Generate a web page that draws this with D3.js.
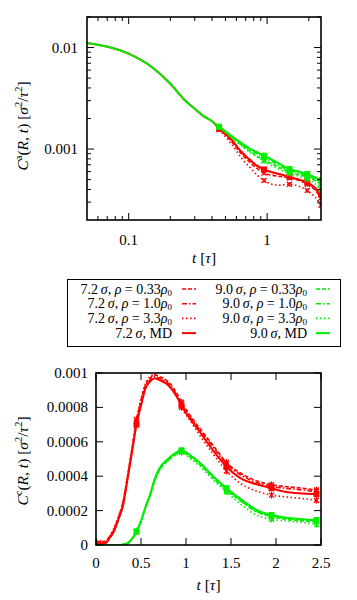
<!DOCTYPE html>
<html><head><meta charset="utf-8">
<script src="https://cdn.jsdelivr.net/npm/d3@7"></script>
<style>
body{margin:0;background:#fff;}
svg text{font-family:"Liberation Serif","DejaVu Serif",serif;fill:#000;}
</style></head>
<body>
<svg id="c" width="357" height="600"></svg>
<script>
// ---------- DATA: top panel (log-log) ----------
const tA_md = [0.05,0.1,0.15,0.2,0.25,0.3,0.35,0.4,0.45,0.55,0.65,0.75,0.85,0.95,1.2,1.45,1.7,1.95,2.2,2.45];
const a_md72 = [0.0111,0.0087,0.0063,0.0044,0.0031,0.0025,0.0021,0.00188,0.00160,0.00125,0.00094,0.00078,0.00068,0.00063,0.00057,0.00053,0.00050,0.00047,0.00042,0.00036];
const a_md90 = [0.0111,0.0087,0.0063,0.0044,0.0031,0.0025,0.0021,0.00188,0.00166,0.00135,0.00115,0.00101,0.00093,0.00086,0.00073,0.000635,0.00060,0.000567,0.00053,0.00049];
const tA_rho = [0.45,0.55,0.65,0.75,0.85,0.95,1.2,1.45,1.7,1.95,2.2,2.45];
const a_72_033 = [0.00158,0.00120,0.00090,0.00074,0.00064,0.00058,0.00054,0.00052,0.00049,0.00045,0.00040,0.00033];
const a_72_10  = [0.00160,0.00124,0.00095,0.00079,0.00069,0.00063,0.00057,0.00054,0.00050,0.00046,0.00041,0.00035];
const a_72_33  = [0.00155,0.00113,0.00082,0.00066,0.00055,0.00049,0.00044,0.00045,0.00043,0.00039,0.00034,0.00028];
const a_90_033 = [0.00165,0.00132,0.00110,0.00095,0.00085,0.00078,0.00067,0.00059,0.00056,0.00053,0.00049,0.00045];
const a_90_10  = [0.00166,0.00134,0.00113,0.00099,0.00090,0.00083,0.00070,0.00062,0.00058,0.00055,0.00051,0.00047];
const a_90_33  = [0.00163,0.00130,0.00108,0.00093,0.00083,0.00076,0.00064,0.00057,0.00054,0.00050,0.00046,0.00040];

// ---------- DATA: bottom panel (linear) ----------
const tC = [0,0.1,0.15,0.2,0.25,0.3,0.35,0.4,0.45,0.5,0.55,0.6,0.65,0.7,0.8,0.9,0.95,1.05,1.15,1.3,1.45,1.6,1.8,1.95,2.1,2.3,2.45];
const c_md72   = [0.00001,0.00001,0.00004,0.00008,0.00015,0.00023,0.00038,0.00054,0.0007,0.00081,0.00091,0.00095,0.00097,0.00096,0.00093,0.00086,0.00081,0.00073,0.00066,0.00055,0.000455,0.00039,0.00035,0.00033,0.00031,0.0003,0.000296];
const c_72_033 = [0.00002,0.00002,0.00005,0.00009,0.00016,0.00025,0.0004,0.00056,0.00072,0.00084,0.00093,0.00097,0.00099,0.00098,0.00095,0.00088,0.00083,0.00075,0.00068,0.00058,0.00048,0.00042,0.00037,0.00035,0.00034,0.00033,0.00032];
const c_72_10  = [0.00002,0.00001,0.00004,0.00009,0.00016,0.00024,0.00039,0.00055,0.00071,0.00083,0.00092,0.00096,0.00098,0.00097,0.00094,0.00087,0.00082,0.00074,0.00067,0.00057,0.00047,0.00041,0.00036,0.00034,0.00033,0.00032,0.00031];
const c_72_33  = [0.00003,0.00002,0.00005,0.0001,0.00017,0.00025,0.0004,0.00056,0.00073,0.00085,0.00094,0.00098,0.00099,0.00097,0.00093,0.00086,0.0008,0.00072,0.00064,0.00053,0.00043,0.00036,0.00031,0.00029,0.00028,0.00027,0.00026];
const c_md90   = [0,0,0,0,0,0.000003,0.00001,0.000035,0.000077,0.00014,0.00022,0.00029,0.00038,0.00044,0.0005,0.00054,0.00055,0.00052,0.00048,0.0004,0.00033,0.00027,0.0002,0.000174,0.00016,0.00015,0.000145];
const c_90_033 = [0,0,0,0,0,0.000003,0.000011,0.000036,0.00008,0.00014,0.00022,0.00029,0.00037,0.00043,0.00049,0.00053,0.00054,0.00051,0.00047,0.00039,0.00032,0.00026,0.00019,0.000165,0.00015,0.00014,0.000135];
const c_90_10  = [0,0,0,0,0,0.000003,0.00001,0.000035,0.000078,0.00014,0.00022,0.00029,0.00038,0.00044,0.0005,0.00054,0.00055,0.00052,0.00048,0.0004,0.00033,0.00026,0.00019,0.00017,0.000155,0.000145,0.00014];
const c_90_33  = [0,0,0,0,0,0.000004,0.000012,0.000038,0.00008,0.00014,0.00022,0.00029,0.00037,0.00043,0.00049,0.00053,0.00054,0.0005,0.00046,0.00038,0.00031,0.00024,0.00017,0.00015,0.00014,0.00013,0.00012];

const markerTimes = [0.45,0.95,1.45,1.95,2.45];
const topXTicks = [0.1,1];
const topYTicks = [0.001,0.01];
const botXTicks = [0,0.5,1,1.5,2,2.5];
const botYTicks = [0,0.0002,0.0004,0.0006,0.0008,0.001];
const legendLabels = [
  ["7.2","0.33"],["7.2","1.0"],["7.2","3.3"],["7.2","MD"],
  ["9.0","0.33"],["9.0","1.0"],["9.0","3.3"],["9.0","MD"]];

// ---------- STYLE ----------
const RED = "#ff0000", GREEN = "#00ee00";
const styles = {
  "0.33": {dash:"4,2", w:1.6, mk:"x"},
  "1.0":  {dash:"5,2,1.5,2", w:1.6, mk:"x"},
  "3.3":  {dash:"1.5,2.5", w:1.6, mk:"x"},
  "MD":   {dash:null, w:2, mk:"sq"}
};
const svg = d3.select("#c");
const FS = 15;

function drawSeries(g, x, y, ts, vs, color, key, clipId, errFrac, errAbs) {
  const st = styles[key];
  const pts = ts.map((t,i)=>[t,vs[i]]);
  const line = d3.line().x(d=>x(d[0])).y(d=>y(d[1])).curve(d3.curveMonotoneX);
  const gg = g.append("g").attr("clip-path", `url(#${clipId})`);
  gg.append("path").attr("d", line(pts)).attr("fill","none")
    .attr("stroke", color).attr("stroke-width", st.w)
    .attr("stroke-dasharray", st.dash);
  pts.filter(p=>markerTimes.some(m=>Math.abs(m-p[0])<1e-6)).forEach(p=>{
    const cx = x(p[0]), cy = y(p[1]);
    const e = errAbs != null ? errAbs : p[1]*errFrac;
    gg.append("line").attr("x1",cx).attr("x2",cx)
      .attr("y1",y(p[1]+e)).attr("y2",y(Math.max(p[1]-e,1e-9)))
      .attr("stroke",color).attr("stroke-width",1.2);
    if (st.mk === "sq") {
      gg.append("rect").attr("x",cx-3).attr("y",cy-3).attr("width",6).attr("height",6).attr("fill",color);
    } else {
      const s=2.5;
      gg.append("path").attr("d",`M${cx-s},${cy-s}L${cx+s},${cy+s}M${cx-s},${cy+s}L${cx+s},${cy-s}`)
        .attr("stroke",color).attr("stroke-width",1.3);
    }
  });
}

function ylabel(g, cx, cy, sup) {
  const t = g.append("text").attr("transform",`translate(${cx},${cy}) rotate(-90)`)
    .attr("text-anchor","middle").attr("font-size",FS+0.5);
  t.append("tspan").attr("font-style","italic").text("C");
  t.append("tspan").attr("font-size",10.5).attr("dy",-6).text(sup);
  t.append("tspan").attr("dy",6).text("(");
  t.append("tspan").attr("font-style","italic").text("R");
  t.append("tspan").text(", ");
  t.append("tspan").attr("font-style","italic").text("t");
  t.append("tspan").text(") [");
  t.append("tspan").attr("font-style","italic").text("σ");
  t.append("tspan").attr("font-size",10.5).attr("dy",-6).text("2");
  t.append("tspan").attr("dy",6).text("/");
  t.append("tspan").attr("font-style","italic").text("τ");
  t.append("tspan").attr("font-size",10.5).attr("dy",-6).text("2");
  t.append("tspan").attr("dy",6).text("]");
}
function xlabel(g, cx, cy) {
  const t = g.append("text").attr("x",cx).attr("y",cy).attr("text-anchor","middle").attr("font-size",FS+0.5);
  t.append("tspan").attr("font-style","italic").text("t");
  t.append("tspan").text(" [");
  t.append("tspan").attr("font-style","italic").text("τ");
  t.append("tspan").text("]");
}

function frameTicks(g, x, y, L, R, T, B, xMaj, xMin, yMaj, yMin) {
  const tk = (x1,y1,x2,y2)=>g.append("line").attr("x1",x1).attr("y1",y1).attr("x2",x2).attr("y2",y2)
     .attr("stroke","#000").attr("stroke-width",1);
  xMaj.forEach(v=>{const p=x(v); tk(p,B,p,B-7); tk(p,T,p,T+7);});
  xMin.forEach(v=>{const p=x(v); tk(p,B,p,B-4); tk(p,T,p,T+4);});
  yMaj.forEach(v=>{const p=y(v); tk(L,p,L+7,p); tk(R,p,R-7,p);});
  yMin.forEach(v=>{const p=y(v); tk(L,p,L+4,p); tk(R,p,R-4,p);});
  g.append("rect").attr("x",L).attr("y",T).attr("width",R-L).attr("height",B-T)
    .attr("fill","none").attr("stroke","#000").attr("stroke-width",1.6);
}

// ---------- TOP PANEL ----------
{
  const L=87, R=321, T=17, B=220;
  const x = d3.scaleLog().domain([0.05,2.45]).range([L,R]);
  const y = d3.scaleLog().domain([0.0002,0.02]).range([B,T]);
  const g = svg.append("g");
  svg.append("clipPath").attr("id","clipA").append("rect").attr("x",L).attr("y",T).attr("width",R-L).attr("height",B-T);
  drawSeries(g,x,y,tA_rho,a_72_033,RED,"0.33","clipA",0.05);
  drawSeries(g,x,y,tA_rho,a_72_10,RED,"1.0","clipA",0.05);
  drawSeries(g,x,y,tA_rho,a_72_33,RED,"3.3","clipA",0.05);
  drawSeries(g,x,y,tA_md,a_md72,RED,"MD","clipA",0.04);
  drawSeries(g,x,y,tA_rho,a_90_033,GREEN,"0.33","clipA",0.05);
  drawSeries(g,x,y,tA_rho,a_90_10,GREEN,"1.0","clipA",0.05);
  drawSeries(g,x,y,tA_rho,a_90_33,GREEN,"3.3","clipA",0.05);
  drawSeries(g,x,y,tA_md,a_md90,GREEN,"MD","clipA",0.04);
  const xMin = [0.06,0.07,0.08,0.09,0.2,0.3,0.4,0.5,0.6,0.7,0.8,0.9,2];
  const yMin = [0.0003,0.0004,0.0005,0.0006,0.0007,0.0008,0.0009,0.002,0.003,0.004,0.005,0.006,0.007,0.008,0.009,0.02];
  frameTicks(g,x,y,L,R,T,B,topXTicks,xMin,topYTicks,yMin);
  topXTicks.forEach(v=>g.append("text").attr("x",x(v)).attr("y",B+25).attr("text-anchor","middle").attr("font-size",FS).text(v));
  topYTicks.forEach(v=>g.append("text").attr("x",L-9).attr("y",y(v)+5).attr("text-anchor","end").attr("font-size",FS).text(v));
  ylabel(g,28,126,"a");
  xlabel(g,(L+R)/2,263);
}

// ---------- LEGEND ----------
{
  const g = svg.append("g");
  g.append("rect").attr("x",67.5).attr("y",279.5).attr("width",273).attr("height",67)
    .attr("fill","none").attr("stroke","#000").attr("stroke-width",1);
  const rowsY = [289,303.7,318.4,333.1];
  legendLabels.forEach((lab,i)=>{
    const col = i<4?0:1, row = i%4;
    const tx = col===0?172:307, sx = col===0?182:316;
    const color = lab[0]==="7.2"?RED:GREEN;
    const t = g.append("text").attr("x",tx).attr("y",rowsY[row]+4.5).attr("text-anchor","end").attr("font-size",14);
    t.append("tspan").text(lab[0]+"\u2009");
    t.append("tspan").attr("font-style","italic").text("σ");
    t.append("tspan").text(", ");
    if (lab[1]==="MD") {
      t.append("tspan").text("MD");
    } else {
      t.append("tspan").attr("font-style","italic").text("ρ");
      t.append("tspan").text(" = "+lab[1]);
      t.append("tspan").attr("font-style","italic").text("ρ");
      t.append("tspan").attr("font-size",9).attr("dy",2).text("0");
    }
    const st = styles[lab[1]];
    g.append("line").attr("x1",sx).attr("x2",sx+14).attr("y1",rowsY[row]).attr("y2",rowsY[row])
      .attr("stroke",color).attr("stroke-width",st.w).attr("stroke-dasharray",st.dash);
  });
}

// ---------- BOTTOM PANEL ----------
{
  const L=96, R=321, T=373, B=545;
  const x = d3.scaleLinear().domain([0,2.5]).range([L,R]);
  const y = d3.scaleLinear().domain([0,0.001]).range([B,T]);
  const g = svg.append("g");
  svg.append("clipPath").attr("id","clipC").append("rect").attr("x",L).attr("y",T-3).attr("width",R-L).attr("height",B-T+3);
  drawSeries(g,x,y,tC,c_72_033,RED,"0.33","clipC",0,0.00002);
  drawSeries(g,x,y,tC,c_72_10,RED,"1.0","clipC",0,0.00002);
  drawSeries(g,x,y,tC,c_72_33,RED,"3.3","clipC",0,0.00002);
  drawSeries(g,x,y,tC,c_md72,RED,"MD","clipC",0,0.000015);
  drawSeries(g,x,y,tC,c_90_033,GREEN,"0.33","clipC",0,0.00002);
  drawSeries(g,x,y,tC,c_90_10,GREEN,"1.0","clipC",0,0.00002);
  drawSeries(g,x,y,tC,c_90_33,GREEN,"3.3","clipC",0,0.00002);
  drawSeries(g,x,y,tC,c_md90,GREEN,"MD","clipC",0,0.000015);
  frameTicks(g,x,y,L,R,T,B,botXTicks,[],botYTicks,[]);
  botXTicks.forEach(v=>g.append("text").attr("x",x(v)).attr("y",B+23).attr("text-anchor","middle").attr("font-size",FS).text(v));
  botYTicks.forEach(v=>g.append("text").attr("x",L-8).attr("y",y(v)+5).attr("text-anchor","end").attr("font-size",FS).text(v));
  ylabel(g,28,461,"c");
  xlabel(g,(L+R)/2,590);
}
</script>
</body></html>
